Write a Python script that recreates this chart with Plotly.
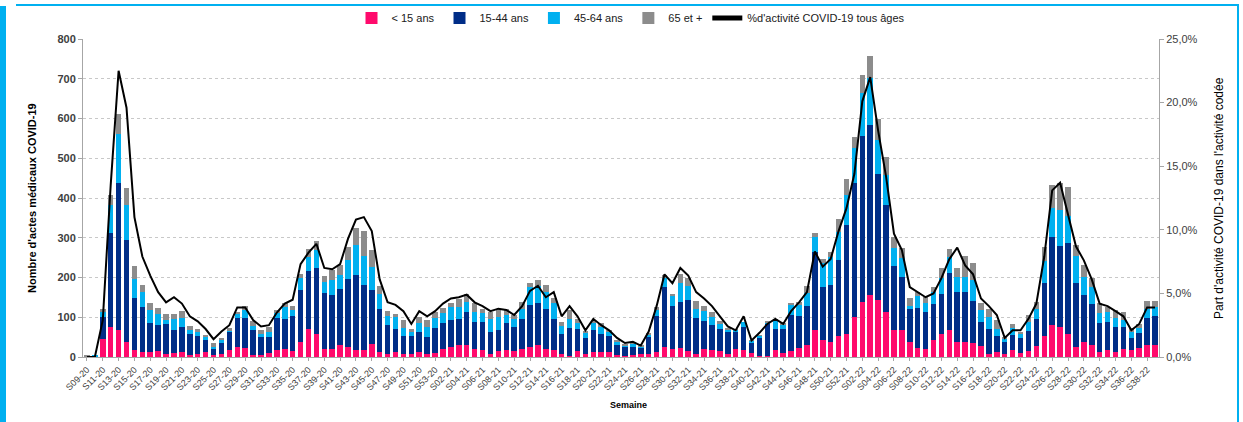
import plotly.graph_objects as go

# Week categories: S09-20 .. S53-20, S01-21 .. S52-21, S01-22 .. S39-22
weeks_2020 = list(range(9, 54))
weeks_2021 = list(range(1, 53))
weeks_2022 = list(range(1, 40))
categories = ([f"S{w:02d}-20" for w in weeks_2020] +
              [f"S{w:02d}-21" for w in weeks_2021] +
              [f"S{w:02d}-22" for w in weeks_2022])

moins_15 = [0, 0, 45, 76, 69, 39, 18, 13, 12, 14, 8, 9, 13, 4, 7, 13, 4, 7, 18, 25,
            23, 4, 4, 10, 18, 19, 15, 37, 71, 57, 21, 21, 31, 24, 17, 18, 33, 13, 8, 13,
            8, 8, 13, 8, 11, 19, 24, 30, 30, 20, 18, 8, 14, 18, 14, 19, 26, 30, 19, 18,
            8, 2, 15, 8, 13, 13, 12, 4, 3, 6, 8, 8, 13, 24, 19, 23, 15, 8, 19, 18,
            14, 8, 19, 18, 9, 3, 3, 18, 9, 14, 23, 30, 68, 43, 39, 53, 58, 101, 139, 156,
            143, 114, 68, 68, 38, 22, 20, 43, 57, 68, 38, 38, 34, 28, 8, 13, 8, 18, 9, 14,
            28, 53, 81, 76, 58, 25, 39, 29, 13, 17, 13, 20, 17, 22, 30, 29]

de_15_44 = [2, 2, 55, 235, 368, 255, 131, 113, 74, 66, 74, 58, 63, 55, 45, 29, 17, 27, 45, 72,
            76, 63, 46, 40, 79, 76, 88, 131, 146, 166, 139, 134, 139, 173, 189, 163, 136, 107, 73, 57,
            45, 45, 50, 42, 62, 67, 69, 65, 84, 69, 71, 56, 54, 67, 62, 76, 105, 107, 101, 77,
            50, 71, 55, 39, 55, 45, 41, 26, 23, 20, 16, 42, 91, 153, 109, 115, 128, 90, 72, 63,
            56, 54, 45, 58, 27, 44, 82, 53, 61, 92, 80, 99, 197, 134, 142, 191, 274, 338, 417, 428,
            317, 268, 162, 134, 82, 102, 94, 90, 101, 144, 126, 126, 107, 61, 62, 41, 30, 37, 40, 51,
            67, 134, 222, 203, 228, 162, 116, 104, 72, 71, 63, 56, 32, 39, 67, 74]

de_45_64 = [0, 1, 12, 71, 124, 88, 48, 38, 33, 28, 12, 29, 23, 10, 13, 8, 4, 11, 4, 12,
            19, 10, 7, 13, 14, 31, 15, 32, 35, 46, 29, 38, 36, 48, 76, 73, 57, 39, 22, 30,
            21, 12, 22, 25, 26, 24, 32, 32, 25, 25, 21, 31, 33, 21, 19, 25, 44, 42, 44, 40,
            20, 22, 16, 14, 19, 18, 11, 9, 4, 7, 2, 7, 14, 22, 25, 49, 36, 23, 24, 20,
            13, 6, 4, 13, 5, 6, 3, 20, 13, 25, 28, 31, 36, 59, 71, 71, 76, 86, 107, 117,
            86, 76, 43, 46, 8, 29, 21, 31, 40, 39, 38, 38, 53, 29, 30, 16, 9, 17, 9, 24,
            25, 55, 71, 91, 69, 67, 47, 44, 25, 24, 21, 17, 15, 13, 25, 22]

plus_65 = [1, 0, 8, 26, 51, 44, 33, 18, 17, 16, 14, 12, 17, 9, 5, 6, 9, 4, 5, 2,
           11, 14, 10, 13, 7, 11, 10, 8, 20, 23, 14, 27, 25, 32, 42, 63, 43, 20, 13, 8,
           19, 5, 15, 18, 15, 14, 12, 20, 19, 21, 12, 17, 19, 14, 11, 18, 12, 15, 18, 13,
           10, 22, 9, 4, 4, 9, 4, 2, 3, 4, 2, 4, 9, 8, 6, 21, 20, 21, 14, 11,
           8, 6, 2, 0, 1, 2, 3, 3, 2, 6, 7, 19, 11, 10, 12, 31, 39, 29, 46, 55,
           54, 46, 30, 25, 20, 10, 15, 13, 25, 20, 21, 52, 43, 17, 22, 23, 4, 11, 6, 17,
           19, 36, 59, 69, 72, 28, 29, 23, 25, 15, 21, 19, 8, 10, 20, 17]

pct_activite = [0, 0, 2.9, 13.5, 22.5, 19.6, 11.0, 7.9, 6.4, 5.1, 4.3, 4.7, 4.2, 3.2, 2.8, 2.2, 1.4, 2.0, 2.5, 3.9,
                3.9, 2.9, 2.4, 2.5, 3.5, 4.2, 4.5, 7.3, 8.2, 8.9, 7.0, 6.9, 7.3, 9.3, 10.8, 11.0, 9.9, 6.1, 4.3, 4.1,
                3.6, 2.6, 3.6, 3.2, 3.6, 4.2, 4.6, 4.7, 4.9, 4.3, 4.0, 3.6, 3.8, 3.7, 3.3, 4.0, 5.2, 5.6, 4.7, 5.1,
                3.2, 4.0, 3.2, 2.1, 3.0, 2.5, 2.1, 1.5, 1.1, 1.2, 0.9, 2.0, 4.0, 6.5, 5.8, 7.0, 6.4, 5.1, 4.6, 4.0,
                3.2, 2.4, 2.1, 3.2, 1.3, 1.9, 2.6, 3.0, 2.6, 3.6, 4.3, 5.1, 8.3, 7.1, 7.7, 9.9, 11.7, 14.4, 20.1, 22.0,
                17.8, 14.2, 9.7, 8.4, 5.5, 5.1, 4.7, 5.0, 6.2, 7.7, 8.6, 7.2, 6.5, 4.6, 4.0, 3.3, 1.5, 2.1, 2.1, 3.0,
                4.2, 7.9, 13.1, 13.7, 11.3, 8.7, 7.6, 6.1, 4.2, 4.0, 3.6, 3.2, 2.1, 2.6, 3.9, 3.9]
pct_frac = [v / 100 for v in pct_activite]

tick_labels = categories[::2]

FONT = "Liberation Sans, Arial, sans-serif"

fig = go.Figure()
series = [("< 15 ans", moins_15, "#FF0A6C"),
          ("15-44 ans", de_15_44, "#002D87"),
          ("45-64 ans", de_45_64, "#00B0F0"),
          ("65 et +", plus_65, "#8C8C8C")]
for name, vals, col in series:
    fig.add_trace(go.Bar(x=categories, y=vals, name=name,
                         marker=dict(color=col, line=dict(width=0))))

fig.add_trace(go.Scatter(x=categories, y=pct_frac, name="%d'activité COVID-19 tous âges",
                         mode="lines", line=dict(color="black", width=2),
                         yaxis="y2"))

L, R, T, B = 83, 1159, 39, 357
W, H = R - L, B - T


def px(x):
    return (x - L) / W


def py(y):
    return (B - y) / H


fig.update_layout(
    width=1243, height=422,
    margin=dict(l=L, r=1243 - R, t=T, b=422 - B, autoexpand=False),
    paper_bgcolor="white", plot_bgcolor="white",
    barmode="stack", bargap=0.3,
    separators=", ",
    font=dict(family=FONT, size=11, color="#404040"),
    showlegend=True,
    legend=dict(orientation="h", x=px(631), xanchor="center", y=py(18), yanchor="middle",
                traceorder="normal", font=dict(size=11, color="#202020"),
                itemsizing="constant", bgcolor="rgba(0,0,0,0)"),
    xaxis=dict(type="category", tickmode="array", tickvals=tick_labels, ticktext=tick_labels,
               tickangle=-45, tickfont=dict(size=9, color="#404040"),
               showline=True, linecolor="#a6a6a6", linewidth=1,
               ticks="outside", ticklen=3, tickcolor="#a6a6a6",
               showgrid=False, range=[-0.5, len(categories) - 0.5], automargin=False),
    yaxis=dict(range=[0, 800], dtick=100, showgrid=True, gridcolor="#c8c8c8",
               griddash="dot", gridwidth=1,
               showline=True, linecolor="#a6a6a6", linewidth=1,
               ticks="outside", ticklen=4, tickcolor="#a6a6a6",
               tickfont=dict(size=11, color="#404040", family=FONT, weight="bold"),
               zeroline=False, automargin=False),
    yaxis2=dict(range=[0, 0.25], dtick=0.05, tickformat=".1%", overlaying="y", side="right",
                showgrid=False, showline=True, linecolor="#a6a6a6", linewidth=1,
                ticks="outside", ticklen=4, tickcolor="#a6a6a6",
                tickfont=dict(size=11, color="#404040"), zeroline=False, automargin=False),
)

annotations = [
    dict(text="<b>Nombre d'actes médicaux COVID-19</b>", xref="paper", yref="paper",
         x=px(32), y=0.5, textangle=-90, showarrow=False,
         font=dict(size=11, color="black"), xanchor="center", yanchor="middle"),
    dict(text="Part d'activité COVID-19 dans l'activité codée", xref="paper", yref="paper",
         x=px(1219), y=0.5, textangle=-90, showarrow=False,
         font=dict(size=12, color="black"), xanchor="center", yanchor="middle"),
    dict(text="<b>Semaine</b>", xref="paper", yref="paper",
         x=px(628), y=py(405), showarrow=False,
         font=dict(size=9, color="black"), xanchor="center", yanchor="middle"),
]
fig.update_layout(annotations=annotations)

cyan = "#00B0F0"
shapes = [
    dict(type="rect", xref="paper", yref="paper", x0=px(0), x1=px(6), y0=py(422), y1=py(6),
         fillcolor=cyan, line=dict(width=0), layer="above"),
    dict(type="line", xref="paper", yref="paper", x0=px(16), x1=px(1239), y0=py(5), y1=py(5),
         line=dict(color=cyan, width=2), layer="above"),
    dict(type="line", xref="paper", yref="paper", x0=px(1238), x1=px(1238), y0=py(5), y1=py(422),
         line=dict(color=cyan, width=2), layer="above"),
]
fig.update_layout(shapes=shapes)

fig.write_html("out.html", config={"displayModeBar": False},
               post_script="document.body.style.margin='0';document.body.style.overflow='hidden';")
